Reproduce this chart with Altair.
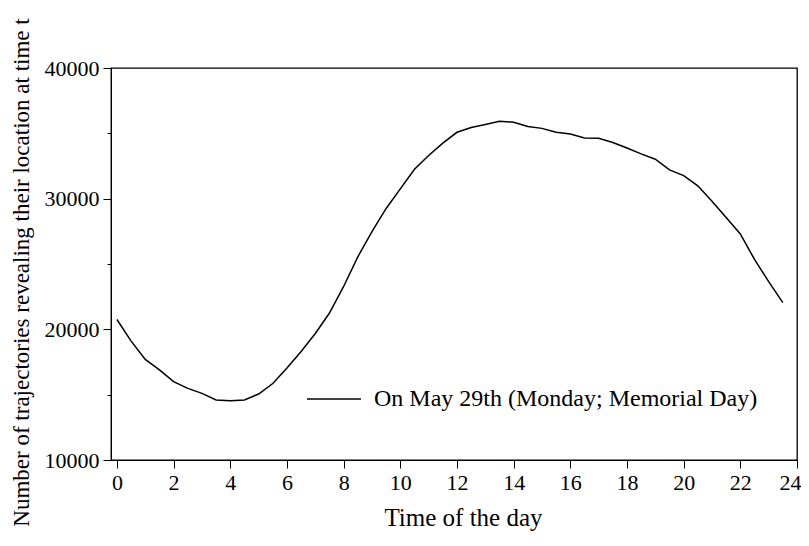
import altair as alt
import pandas as pd

hours = [0, 0.5, 1, 1.5, 2, 2.5, 3, 3.5, 4, 4.5, 5, 5.5, 6, 6.5, 7, 7.5, 8, 8.5,
         9, 9.5, 10, 10.5, 11, 11.5, 12, 12.5, 13, 13.5, 14, 14.5, 15, 15.5, 16,
         16.5, 17, 17.5, 18, 18.5, 19, 19.5, 20, 20.5, 21, 21.5, 22, 22.5, 23, 23.5]
counts = [20750, 19100, 17700, 16900, 16000, 15480, 15100, 14600, 14540, 14600,
          15050, 15850, 17040, 18300, 19680, 21250, 23280, 25550, 27480, 29250,
          30750, 32250, 33300, 34250, 35080, 35450, 35680, 35920, 35850, 35520,
          35380, 35080, 34950, 34640, 34620, 34300, 33880, 33430, 33020, 32200,
          31760, 30980, 29800, 28550, 27300, 25350, 23650, 22040]
series_name = "On May 29th (Monday; Memorial Day)"

x_ticks = [0, 2, 4, 6, 8, 10, 12, 14, 16, 18, 20, 22, 24]
y_major = [10000, 20000, 30000, 40000]
y_minor = [15000, 25000, 35000]

df = pd.DataFrame({"hour": hours, "count": counts, "series": series_name})

FONT = "Liberation Serif"

xscale = alt.Scale(domain=[-0.21, 24], nice=False, zero=False)
yscale = alt.Scale(domain=[10000, 40000], nice=False, zero=False)

base = alt.Chart(df)

main = base.mark_line(strokeWidth=1.5).encode(
    x=alt.X("hour:Q", scale=xscale,
            axis=alt.Axis(values=x_ticks, title="Time of the day", grid=False,
                          tickSize=8, tickColor="black", domainColor="black",
                          labelFont=FONT, labelFontSize=22, labelColor="black",
                          labelPadding=4, labelFlush=True, labelFlushOffset=4,
                          titleFont=FONT, titleFontSize=25, titleFontWeight="normal",
                          titleColor="black", titleX=352, titleY=65,
                          titleBaseline="alphabetic")),
    y=alt.Y("count:Q", scale=yscale,
            axis=alt.Axis(values=y_major, format="d", orient="left", grid=False,
                          title="Number of trajectories revealing their location at time t",
                          tickSize=8, tickColor="black", domainColor="black",
                          labelFont=FONT, labelFontSize=22, labelColor="black",
                          labelPadding=4, labelFlush=False,
                          titleFont=FONT, titleFontSize=23, titleFontWeight="normal",
                          titleColor="black", titleX=-78, titleY=204)),
    color=alt.Color("series:N", scale=alt.Scale(range=["black"]),
                    legend=alt.Legend(title=None, orient="none", legendX=195, legendY=303,
                                      symbolType="stroke", symbolSize=2916,
                                      symbolStrokeWidth=1.5, symbolStrokeColor="black",
                                      labelFont=FONT, labelFontSize=24, labelColor="black",
                                      labelOffset=12, labelLimit=600)),
)

minor = base.mark_line(strokeOpacity=0).encode(
    x=alt.X("hour:Q", scale=xscale),
    y=alt.Y("count:Q", scale=yscale,
            axis=alt.Axis(values=y_minor, orient="left", labels=False, domain=False,
                          grid=False, tickSize=4, tickColor="black", title=None)),
)

chart = alt.layer(main, minor).resolve_axis(y="independent").properties(
    width=686,
    height=392,
    autosize=alt.AutoSizeParams(type="none"),
    padding={"left": 103, "top": 60, "right": 4, "bottom": 72},
    background="white",
).configure_view(stroke="black", strokeWidth=1.3)

chart.save("out.html", embed_options={"renderer": "svg", "actions": False})
